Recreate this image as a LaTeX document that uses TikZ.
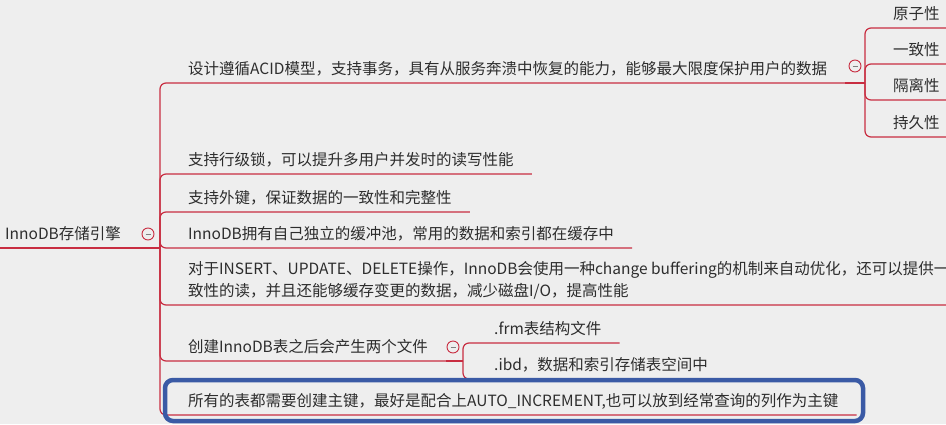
\documentclass[tikz,border=0pt]{standalone}
\usepackage{fontspec}
\setmainfont{Noto Sans CJK SC}
\definecolor{mmbg}{RGB}{238,238,238}
\definecolor{mmred}{RGB}{200,45,65}
\definecolor{mmblue}{RGB}{58,90,165}
\definecolor{mmtext}{RGB}{45,45,45}
\usetikzlibrary{positioning}
\begin{document}
\begin{tikzpicture}[x=1pt, y=-1pt,
        topicbox/.style={anchor=south west, inner xsep=18pt, inner ysep=0pt,
                         text height=12pt, text depth=8pt, align=left,
                         text=mmtext, font=\fontsize{15.5}{22}\selectfont},
        branchln/.style={draw=mmred, line width=1.2pt, rounded corners=6pt},
        foldbtn/.style={circle, draw=mmred, line width=0.9pt, fill=mmbg,
                        minimum size=12pt, inner sep=0pt},
        hilite/.style={draw=mmblue, line width=4.5pt, rounded corners=8pt}
      ]
        \fill[mmbg] (0,0) rectangle (946,424);
        \useasboundingbox (0,0) rectangle (946,424);
        \coordinate (hub) at (160,248);
        \coordinate (acidhub) at (865,83);
        \coordinate (fileshub) at (463,361);
        \node[topicbox] (root) at (-13,248) {InnoDB存储引擎};
        \node[topicbox] (acid) at (170,83) {设计遵循ACID模型，支持事务，具有从服务奔溃中恢复的能力，能够最大限度保护用户的数据};
        \node[topicbox] (rowlock) at (170,174) {支持行级锁，可以提升多用户并发时的读写性能};
        \node[topicbox] (fkey) at (170,212) {支持外键，保证数据的一致性和完整性};
        \node[topicbox] (bufpool) at (170,248) {InnoDB拥有自己独立的缓冲池，常用的数据和索引都在缓存中};
        \node[topicbox] (chgbuf) at (170,305) {对于INSERT、UPDATE、DELETE操作，InnoDB会使用一种change buffering的机制来自动优化，还可以提供一\\致性的读，并且还能够缓存变更的数据，减少磁盘I/O，提高性能};
        \node[topicbox] (files) at (170,361) {创建InnoDB表之后会产生两个文件};
        \node[topicbox] (pkey) at (170,415) {所有的表都需要创建主键，最好是配合上AUTO\_INCREMENT,也可以放到经常查询的列作为主键};
        \node[topicbox] (atom) at (875,28) {原子性};
        \node[topicbox] (consist) at (875,64) {一致性};
        \node[topicbox] (isol) at (875,100) {隔离性};
        \node[topicbox] (durab) at (875,137) {持久性};
        \node[topicbox] (frm) at (476,343) {.frm表结构文件};
        \node[topicbox] (ibd) at (476,379) {.ibd，数据和索引存储表空间中};
        \draw[branchln] (root.south west) -- (hub);
        \foreach \kid in {acid,rowlock,fkey,bufpool,chgbuf,files,pkey}
          \draw[branchln] (hub) |- (\kid.south east);
        \draw[branchln] (acid.south east) -- (acidhub);
        \draw[branchln] (files.south east) -- (fileshub);
        \foreach \kid in {atom,consist,isol,durab}
          \draw[branchln] (acidhub) |- (\kid.south east);
        \foreach \kid in {frm,ibd}
          \draw[branchln] (fileshub) |- (\kid.south east);
        \node[foldbtn] (rootfold) at (148,234) {\textcolor{gray}{\rule{5pt}{1pt}}};
        \node[foldbtn] (acidfold) at (855,66) {\textcolor{gray}{\rule{5pt}{1pt}}};
        \node[foldbtn] (filesfold) at (453,347) {\textcolor{gray}{\rule{5pt}{1pt}}};
        \draw[hilite] (165,380) rectangle (863,421);
      \end{tikzpicture}
\end{document}
